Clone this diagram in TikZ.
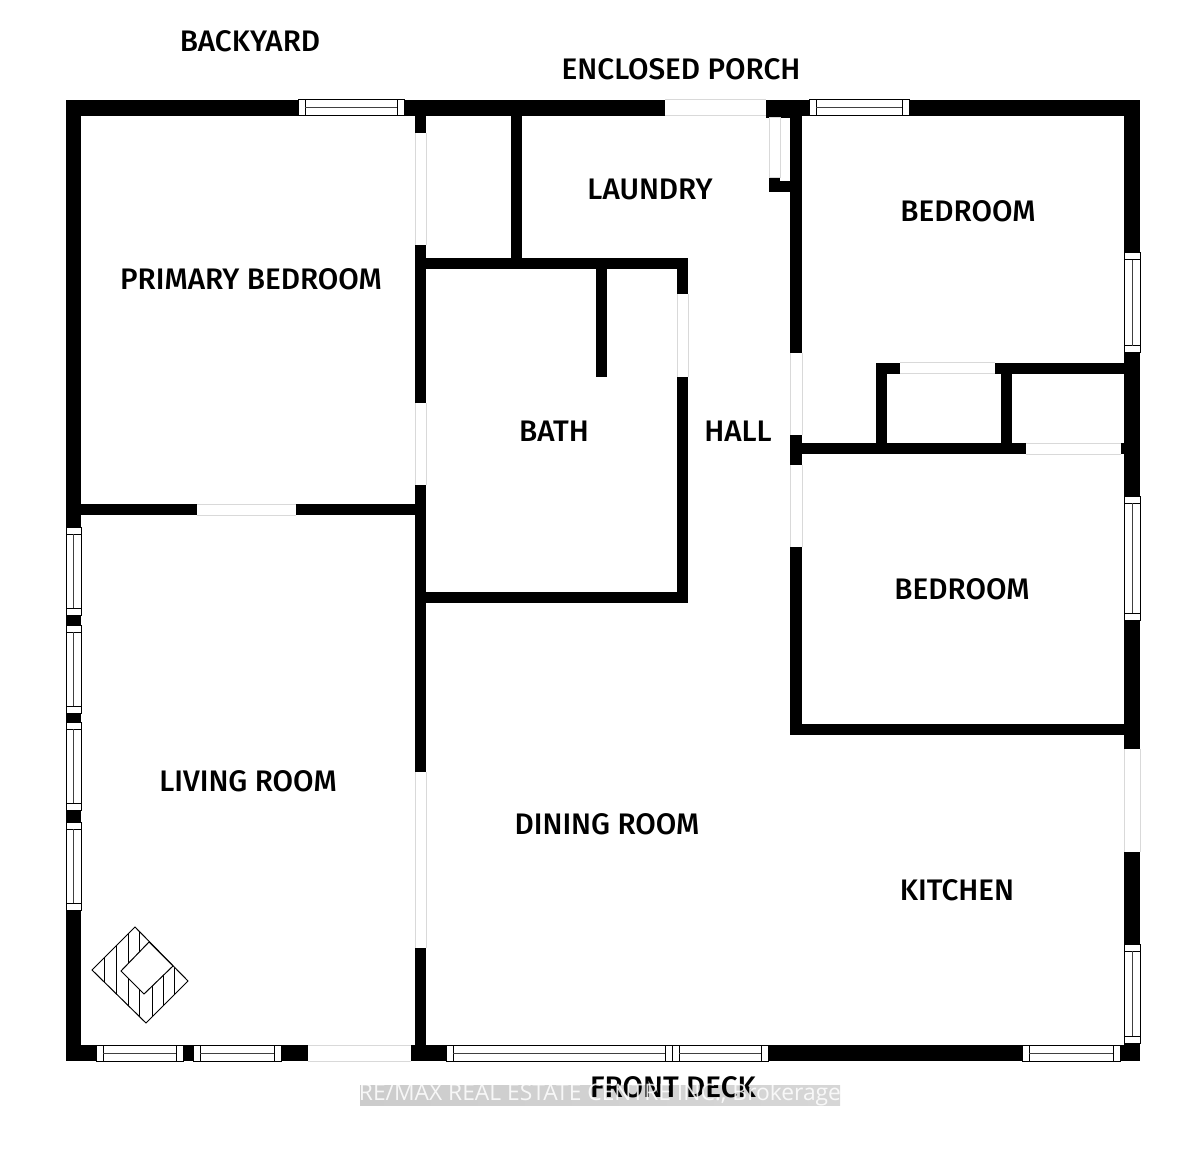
\documentclass[tikz,border=0pt]{standalone}
\usepackage{fontspec}
\setmainfont{Fira Sans Medium}
\newfontfamily\markfont{Open Sans}

\begin{document}
\begin{tikzpicture}
        [x=0.5pt,y=-0.5pt,
         wall/.style={fill=black},
         doorline/.style={color=black!15,line width=0.5pt},
         pane/.style={draw=black,line width=0.5pt,fill=white},
         bar/.style={color=black!75,line width=0.5pt},
         room/.style={font=\fontsize{14.85}{16}\selectfont,inner sep=0pt}]
        \useasboundingbox (0,0) rectangle (1200,1155);

        \fill[wall] (66,100) rectangle (1140,116);
        \fill[wall] (66,1045) rectangle (1140,1061);
        \fill[wall] (66,100) rectangle (81,1061);
        \fill[wall] (1124,100) rectangle (1140,1061);

        \fill[wall] (415,116) rectangle (426,1045);
        \fill[wall] (81,504) rectangle (415,515);
        \fill[wall] (426,258) rectangle (688,269);
        \fill[wall] (511,116) rectangle (522,258);
        \fill[wall] (596,269) rectangle (607,377);
        \fill[wall] (677,269) rectangle (688,603);
        \fill[wall] (426,592) rectangle (688,603);
        \fill[wall] (790,116) rectangle (802,735);
        \fill[wall] (790,724) rectangle (1124,735);
        \fill[wall] (802,443) rectangle (1124,454);
        \fill[wall] (876,363) rectangle (1124,374);
        \fill[wall] (876,363) rectangle (887,443);
        \fill[wall] (1001,363) rectangle (1012,443);
        \fill[wall] (769,178) rectangle (780,192);
        \fill[wall] (769,181) rectangle (790,192);
        \fill[wall] (766,116) rectangle (790,118);

        % doors in horizontal walls
        \foreach \xa/\xb/\ya/\yb in {665/766/100/116,308/411/1045/1061,
                197/296/504/515,900/995/363/374,1026/1121/443/454}
        {
                \fill[white] (\xa,\ya) rectangle (\xb,\yb);
                \draw[doorline] (\xa,\ya) -- (\xb,\ya);
                \draw[doorline] (\xa,\yb) -- (\xb,\yb);
        }

        % doors in vertical walls
        \foreach \ya/\yb/\xa/\xb in {133/245/415/426,403/485/415/426,
                772/948/415/426,294/377/677/688,353/435/790/802,
                465/547/790/802,749/852/1124/1140}
        {
                \fill[white] (\xa,\ya) rectangle (\xb,\yb);
                \draw[doorline] (\xa,\ya) -- (\xa,\yb);
                \draw[doorline] (\xb,\ya) -- (\xb,\yb);
        }
        \draw[doorline] (769,118) rectangle (780,178);

        % windows
        \foreach \xa/\xb/\ya in {298/404/100,809/909/100,96/183/1045,193/281/1045,
                446/672/1045,672/768/1045,1022/1120/1045}
        {
                \draw[pane] (\xa,\ya) rectangle (\xb,\ya+16);
                \draw[pane] (\xa+7,\ya) -- (\xa+7,\ya+16);
                \draw[pane] (\xb-7,\ya) -- (\xb-7,\ya+16);
                \draw[bar] (\xa+7,\ya+8) -- (\xb-7,\ya+8);
        }
        \foreach \ya/\yb/\xa/\xb in {527/615/66/81,625/713/66/81,722/810/66/81,822/910/66/81,
                253/353/1124/1140,496/620/1124/1140,944/1043/1124/1140}
        {
                \draw[pane] (\xa,\ya) rectangle (\xb,\yb);
                \draw[pane] (\xa,\ya+7) -- (\xb,\ya+7);
                \draw[pane] (\xa,\yb-7) -- (\xb,\yb-7);
                \draw[bar] (\xa/2+\xb/2,\ya+7) -- (\xa/2+\xb/2,\yb-7);
        }

        % fireplace
        \begin{scope}
                \clip (135,927) -- (188,981) -- (146,1023) -- (92,970) -- cycle;
                \foreach \x in {104,116,128,139,152,163,174}
                        \draw[line width=0.5pt] (\x,920) -- (\x,1030);
        \end{scope}
        \draw[line width=0.5pt] (135,927) -- (188,981) -- (146,1023) -- (92,970) -- cycle;
        \draw[line width=0.5pt,fill=white] (149,942) -- (173,966) -- (144,994) -- (121,971) -- cycle;

        \node[room] (backyard) at (250,41) {BACKYARD};
        \node[room] (porch) at (681,69) {ENCLOSED PORCH};
        \node[room] (laundry) at (650,189) {LAUNDRY};
        \node[room] (primary) at (251,279) {PRIMARY BEDROOM};
        \node[room] (bedroomup) at (968,211) {BEDROOM};
        \node[room] (bath) at (554,431) {BATH};
        \node[room] (hall) at (738,431) {HALL};
        \node[room] (bedroomlow) at (962,589) {BEDROOM};
        \node[room] (living) at (248,781) {LIVING ROOM};
        \node[room] (dining) at (607,824) {DINING ROOM};
        \node[room] (kitchen) at (957,890) {KITCHEN};

        \fill[left color=black!20,middle color=black!6,right color=black!16]
                (360,1085) rectangle (840,1105);
        \node[room] (deck) at (673,1087) {FRONT DECK};
        \node[font=\markfont\fontsize{11.4}{12}\selectfont,color=white,opacity=0.85,inner sep=0pt]
                (mark) at (600,1095) {RE/MAX REAL ESTATE CENTRE INC., Brokerage};
\end{tikzpicture}
\end{document}
